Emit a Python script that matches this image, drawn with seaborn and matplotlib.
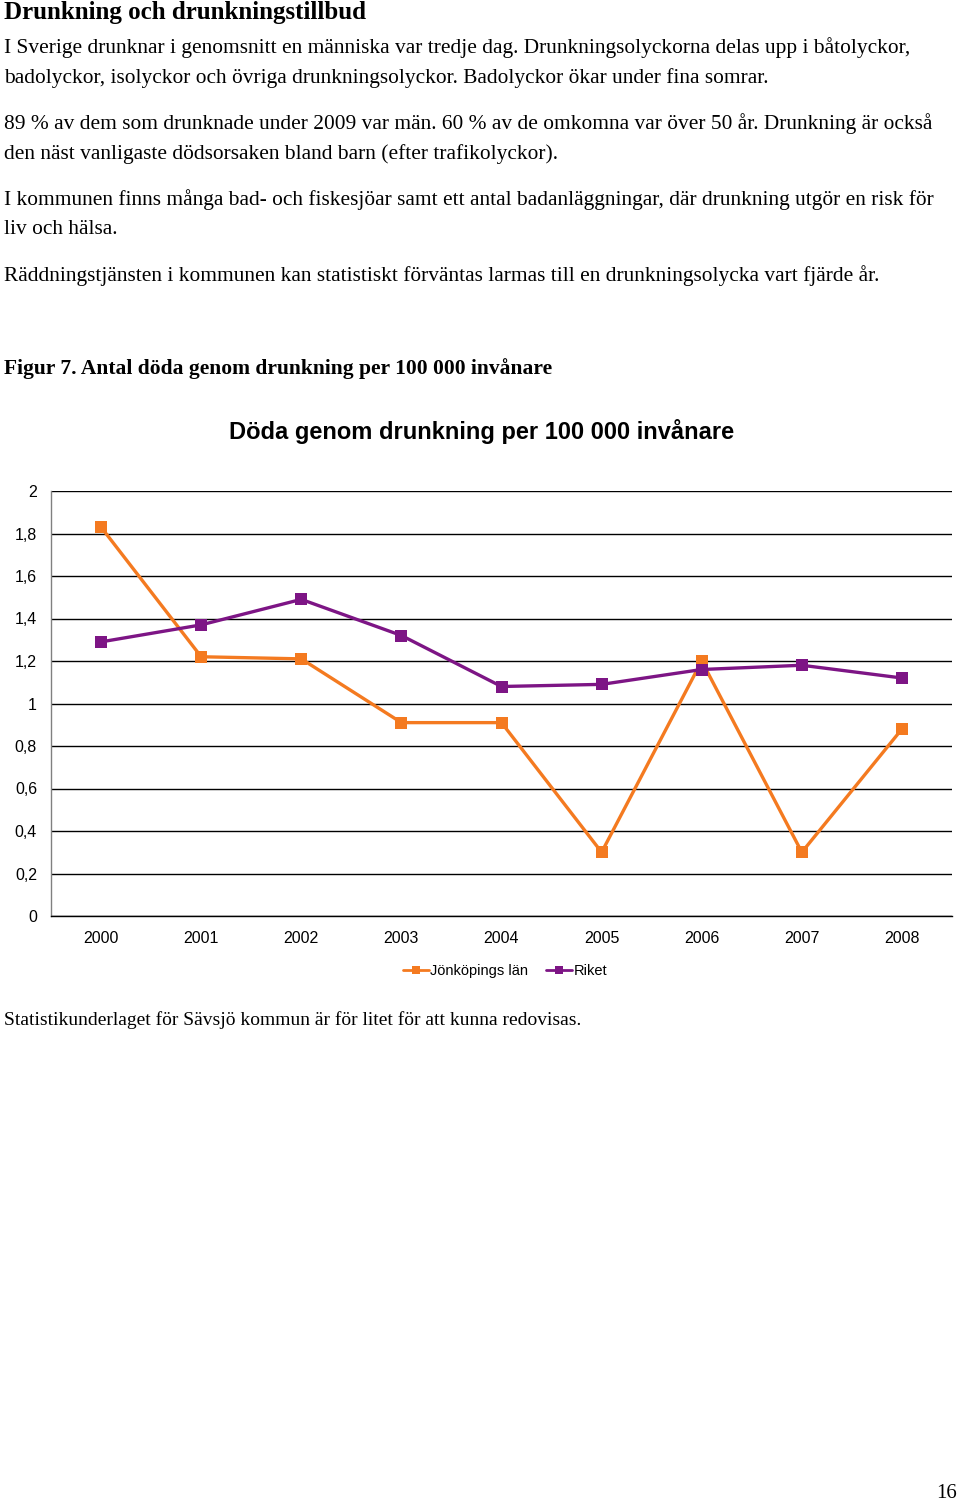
import matplotlib
matplotlib.use("Agg")
import matplotlib.pyplot as plt
import numpy as np
import pandas as pd
import seaborn as sns
from matplotlib.lines import Line2D

years = [2000, 2001, 2002, 2003, 2004, 2005, 2006, 2007, 2008]
jonkoping = [1.83, 1.22, 1.21, 0.91, 0.91, 0.30, 1.20, 0.30, 0.88]
riket = [1.29, 1.37, 1.49, 1.32, 1.08, 1.09, 1.16, 1.18, 1.12]
series_names = ["Jönköpings län", "Riket"]
y_ticks = [0, 0.2, 0.4, 0.6, 0.8, 1, 1.2, 1.4, 1.6, 1.8, 2]

COLORS = {"Jönköpings län": "#F47A20", "Riket": "#7D1585"}

body_lines = [
    (48, "I Sverige drunknar i genomsnitt en människa var tredje dag. Drunkningsolyckorna delas upp i båtolyckor,"),
    (78, "badolyckor, isolyckor och övriga drunkningsolyckor. Badolyckor ökar under fina somrar."),
    (124, "89 % av dem som drunknade under 2009 var män. 60 % av de omkomna var över 50 år. Drunkning är också"),
    (154, "den näst vanligaste dödsorsaken bland barn (efter trafikolyckor)."),
    (200, "I kommunen finns många bad- och fiskesjöar samt ett antal badanläggningar, där drunkning utgör en risk för"),
    (230, "liv och hälsa."),
    (276, "Räddningstjänsten i kommunen kan statistiskt förväntas larmas till en drunkningsolycka vart fjärde år."),
]

sns.set_theme(style="white")
plt.rcParams["font.family"] = ["Liberation Sans", "DejaVu Sans"]

W, H = 960, 1504
fig = plt.figure(figsize=(W / 100, H / 100), dpi=100)
fig.patch.set_facecolor("white")


def fy(py):
    return 1 - py / H


serif = ["Liberation Serif", "DejaVu Serif"]
fig.text(4 / W, fy(12), "Drunkning och drunkningstillbud", family=serif,
         fontsize=18, fontweight="bold", va="center", ha="left", color="black")
for py, line in body_lines:
    fig.text(4 / W, fy(py), line, family=serif, fontsize=15.4, va="center", ha="left",
             color="black")
fig.text(4 / W, fy(369), "Figur 7. Antal döda genom drunkning per 100 000 invånare",
         family=serif, fontsize=15.5, fontweight="bold", va="center", ha="left", color="black")
fig.text(4 / W, fy(1020), "Statistikunderlaget för Sävsjö kommun är för litet för att kunna redovisas.",
         family=serif, fontsize=14, va="center", ha="left", color="black")
fig.text(957 / W, fy(1494), "16", family=serif, fontsize=15, va="center", ha="right",
         color="black")

fig.text(482 / W, fy(431), "Döda genom drunkning per 100 000 invånare",
         fontsize=17, fontweight="bold", va="center", ha="center", color="black")

# chart
ax_l, ax_r, ax_t, ax_b = 51, 952, 491, 916
ax = fig.add_axes([ax_l / W, 1 - ax_b / H, (ax_r - ax_l) / W, (ax_b - ax_t) / H])

df = pd.DataFrame({
    "year": years * 2,
    "value": jonkoping + riket,
    "serie": [series_names[0]] * len(years) + [series_names[1]] * len(years),
})
sns.lineplot(data=df, x="year", y="value", hue="serie", palette=COLORS,
             marker="s", markersize=9, markeredgewidth=0, linewidth=2.4,
             legend=False, ax=ax, zorder=3)

ax.set_ylim(0, 2)
ax.set_xlim(years[0] - 0.5, years[-1] + 0.5)
ax.set_yticks(y_ticks)
ax.set_yticklabels([f"{t:g}".replace(".", ",") for t in y_ticks])
ax.set_xticks(years)
ax.set_xticklabels([str(y) for y in years])
ax.set_xticks([y + 0.5 for y in [years[0] - 1] + years], minor=True)
ax.tick_params(axis="x", which="major", length=0, pad=11, labelsize=11.5, labelcolor="black")
ax.tick_params(axis="x", which="minor", length=5, width=1, color="black", direction="out")
ax.tick_params(axis="y", which="major", length=5, width=1, color="black",
               direction="out", pad=5, labelsize=11.5, labelcolor="black")
ax.set_xlabel("")
ax.set_ylabel("")
ax.grid(axis="y", color="black", linewidth=1)
ax.set_axisbelow(True)
for s in ["top", "right"]:
    ax.spines[s].set_visible(False)
ax.spines["left"].set_color("#808080")
ax.spines["left"].set_linewidth(1)
ax.spines["bottom"].set_color("black")
ax.spines["bottom"].set_linewidth(1)

handles = [Line2D([], [], color=COLORS[n], marker="s", markersize=6, linewidth=2,
                  markeredgewidth=0) for n in series_names]
fig.legend(handles, series_names, loc="center", bbox_to_anchor=(505 / W, fy(971)),
           ncol=2, frameon=False, fontsize=10.5, handlelength=1.8, handletextpad=0.1,
           columnspacing=1.2, labelcolor="black")

fig.savefig("out.png", dpi=100, facecolor="white")
